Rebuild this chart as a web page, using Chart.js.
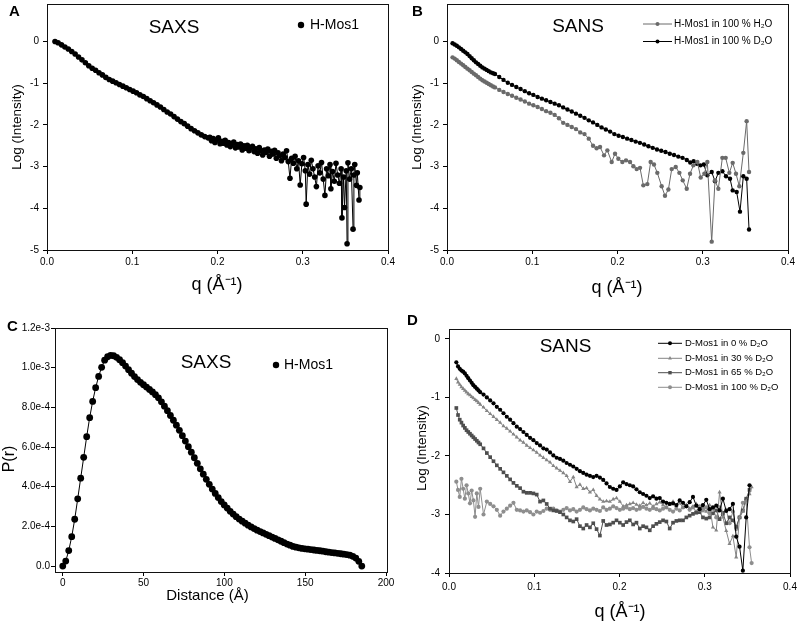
<!DOCTYPE html>
<html>
<head>
<meta charset="utf-8">
<script src="https://cdn.jsdelivr.net/npm/chart.js@4.4.1/dist/chart.umd.min.js"></script>
<style>
body { margin: 0; background: #fff; }
#wrap { position: relative; width: 800px; height: 621px; background: #fff; }
canvas { position: absolute; }
</style>
</head>
<body>
<div id="wrap">
  <canvas id="chartA" width="400" height="310" style="left:0;top:0"></canvas>
  <canvas id="chartB" width="400" height="310" style="left:400px;top:0"></canvas>
  <canvas id="chartC" width="400" height="311" style="left:0;top:310px"></canvas>
  <canvas id="chartD" width="400" height="311" style="left:400px;top:310px"></canvas>
</div>
<script>
// Panel A - SAXS, H-Mos1
const qA = [0.0094, 0.013, 0.017, 0.021, 0.025, 0.029, 0.033, 0.037, 0.041, 0.045, 0.049, 0.053, 0.057, 0.061, 0.065, 0.069, 0.073, 0.077, 0.081, 0.085, 0.089, 0.093, 0.097, 0.101, 0.105, 0.109, 0.113, 0.117, 0.121, 0.125, 0.129, 0.133, 0.137, 0.141, 0.145, 0.149, 0.153, 0.157, 0.161, 0.165, 0.169, 0.173, 0.177, 0.181, 0.185, 0.189,
  0.191, 0.193, 0.195, 0.197, 0.199, 0.201, 0.203, 0.205, 0.207, 0.209, 0.211, 0.213, 0.215, 0.217, 0.219, 0.221, 0.223, 0.225, 0.227, 0.229, 0.231, 0.233, 0.235, 0.237, 0.239, 0.241, 0.243, 0.245, 0.247, 0.249,
  0.251, 0.253, 0.255, 0.257, 0.259, 0.261, 0.263, 0.265, 0.267, 0.269, 0.271, 0.273, 0.275, 0.277, 0.279, 0.281, 0.283, 0.285, 0.287, 0.289, 0.291, 0.293, 0.295, 0.297, 0.299,
  0.301, 0.303, 0.304, 0.306, 0.308, 0.310, 0.312, 0.314, 0.316, 0.318, 0.320, 0.322, 0.324, 0.326, 0.328, 0.330, 0.332, 0.333, 0.335, 0.337, 0.339, 0.341, 0.343, 0.345, 0.346, 0.348, 0.349,
  0.351, 0.352, 0.353, 0.355, 0.357, 0.359, 0.360, 0.361, 0.363, 0.364, 0.366, 0.367];
const logIA = [0.00, -0.03, -0.08, -0.13, -0.18, -0.24, -0.30, -0.37, -0.44, -0.51, -0.58, -0.64, -0.69, -0.75, -0.80, -0.86, -0.91, -0.95, -0.99, -1.03, -1.07, -1.11, -1.15, -1.19, -1.23, -1.28, -1.32, -1.37, -1.42, -1.47, -1.52, -1.57, -1.63, -1.69, -1.74, -1.80, -1.86, -1.92, -1.97, -2.03, -2.09, -2.14, -2.19, -2.24, -2.28, -2.31,
  -2.30, -2.38, -2.33, -2.42, -2.36, -2.31, -2.45, -2.39, -2.44, -2.37, -2.48, -2.42, -2.52, -2.45, -2.41, -2.55, -2.47, -2.53, -2.46, -2.60, -2.50, -2.56, -2.49, -2.62, -2.55, -2.51, -2.64, -2.57, -2.68, -2.54,
  -2.62, -2.72, -2.60, -2.66, -2.58, -2.75, -2.63, -2.70, -2.61, -2.80, -2.67, -2.74, -2.86, -2.70, -2.78, -2.62, -2.88, -3.28, -2.80, -2.92, -2.75, -3.05, -2.86, -3.44, -2.93,
  -2.78, -3.10, -3.90, -2.95, -3.18, -2.85, -3.05, -3.25, -3.48, -2.98, -3.15, -2.90, -3.30, -3.69, -3.05, -3.22, -2.95, -3.53, -3.12, -3.35, -2.92, -3.20, -3.40, -3.05, -4.23, -3.25, -3.98,
  -3.10, -4.85, -2.91, -3.30, -3.05, -4.50, -3.20, -2.95, -3.45, -3.15, -3.80, -3.50];

// Panel B - SANS, H-Mos1 in H2O / D2O
const qB_H2O = [0.0065, 0.009, 0.0115, 0.014, 0.0165, 0.019, 0.0215, 0.024, 0.0265, 0.029, 0.0315, 0.034, 0.0365, 0.039, 0.0415, 0.044, 0.0465, 0.049, 0.0515, 0.054, 0.0563,
  0.0613, 0.0663, 0.0713, 0.0763, 0.0813, 0.0863, 0.0913, 0.0963, 0.1013, 0.1063, 0.1113, 0.1163, 0.1213, 0.1263, 0.1313, 0.1363, 0.1413, 0.1463, 0.1513, 0.1563, 0.1613, 0.1663, 0.1713, 0.1755, 0.1795,
  0.1842, 0.1881, 0.1932, 0.1971, 0.2010, 0.2057, 0.2100, 0.2147, 0.2186, 0.2225, 0.2264, 0.2303, 0.2350, 0.2389, 0.2428, 0.2467, 0.2518, 0.2557, 0.2597, 0.2636, 0.2683, 0.2726, 0.2765, 0.2812,
  0.2851, 0.2890, 0.2937, 0.2976, 0.3019, 0.3054, 0.3105, 0.3144, 0.3183, 0.3230, 0.3269, 0.3312, 0.3351, 0.3390, 0.3429, 0.3476, 0.3515, 0.3543];
const logIB_H2O = [-0.38, -0.41, -0.45, -0.49, -0.53, -0.57, -0.61, -0.65, -0.69, -0.73, -0.77, -0.81, -0.85, -0.89, -0.93, -0.96, -0.99, -1.02, -1.05, -1.08, -1.10,
  -1.16, -1.21, -1.26, -1.30, -1.35, -1.39, -1.44, -1.49, -1.53, -1.57, -1.62, -1.67, -1.71, -1.76, -1.84, -1.95, -2.00, -2.05, -2.10, -2.18, -2.22, -2.33, -2.50, -2.56, -2.53,
  -2.73, -2.61, -2.89, -2.69, -2.81, -2.89, -2.85, -2.89, -2.99, -3.06, -3.03, -3.45, -3.42, -2.89, -2.95, -3.15, -3.47, -3.70, -3.55, -3.06, -3.01, -3.15, -3.33, -3.53,
  -3.17, -2.97, -2.89, -3.26, -3.17, -2.89, -4.80, -3.33, -3.53, -2.79, -2.79, -3.15, -2.91, -3.17, -3.47, -2.67, -1.91, -3.13];
const qB_D2O = [0.0065, 0.009, 0.0115, 0.014, 0.0165, 0.019, 0.0215, 0.024, 0.0265, 0.029, 0.0315, 0.034, 0.0365, 0.039, 0.0415, 0.044, 0.0465, 0.049, 0.0515, 0.054, 0.0563,
  0.0613, 0.0663, 0.0713, 0.0763, 0.0813, 0.0863, 0.0913, 0.0963, 0.1013, 0.1063, 0.1113, 0.1163, 0.1213, 0.1263, 0.1313, 0.1363, 0.1413, 0.1463, 0.1513, 0.1563, 0.1613, 0.1663, 0.1713,
  0.1763, 0.1813, 0.1863, 0.1913, 0.1963, 0.2013, 0.2063, 0.2113, 0.2163, 0.2213, 0.2263, 0.2313, 0.2363, 0.2413, 0.2463, 0.2513, 0.2563, 0.2613, 0.2663, 0.2713, 0.2763, 0.2813,
  0.2853, 0.2893, 0.2933, 0.2973, 0.3013, 0.3054, 0.3105, 0.3144, 0.3183, 0.3230, 0.3273, 0.3320, 0.3351, 0.3398, 0.3437, 0.3476, 0.3515, 0.3543];
const logIB_D2O = [-0.04, -0.07, -0.10, -0.14, -0.18, -0.22, -0.26, -0.30, -0.35, -0.40, -0.45, -0.50, -0.54, -0.58, -0.62, -0.65, -0.68, -0.71, -0.74, -0.76, -0.78,
  -0.85, -0.92, -0.99, -1.04, -1.09, -1.14, -1.19, -1.24, -1.28, -1.33, -1.37, -1.41, -1.45, -1.49, -1.53, -1.58, -1.63, -1.68, -1.73, -1.78, -1.83, -1.89, -1.94,
  -2.00, -2.06, -2.11, -2.16, -2.22, -2.26, -2.29, -2.33, -2.36, -2.40, -2.43, -2.47, -2.51, -2.55, -2.59, -2.62, -2.65, -2.69, -2.72, -2.76, -2.79, -2.84,
  -2.90, -2.87, -2.93, -2.97, -2.95, -3.21, -3.13, -3.35, -3.15, -3.11, -3.23, -3.29, -3.57, -3.61, -4.08, -3.23, -3.29, -4.51];

// Panel C - P(r), H-Mos1
const distC = [0, 1.85, 3.70, 5.55, 7.40, 9.25, 11.10, 12.95, 14.80, 16.65, 18.50, 20.35, 22.20, 24.05, 25.90, 27.75, 29.60, 31.45, 33.30, 35.15,
  37.00, 38.85, 40.70, 42.55, 44.40, 46.25, 48.10, 49.95, 51.80, 53.65, 55.50, 57.35, 59.20, 61.05, 62.90, 64.75, 66.60, 68.45, 70.30, 72.15,
  74.00, 75.85, 77.70, 79.55, 81.40, 83.25, 85.10, 86.95, 88.80, 90.65, 92.50, 94.35, 96.20, 98.05, 99.90, 101.75, 103.60, 105.45, 107.30, 109.15,
  111.00, 112.85, 114.70, 116.55, 118.40, 120.25, 122.10, 123.95, 125.80, 127.65, 129.50, 131.35, 133.20, 135.05, 136.90, 138.75, 140.60, 142.45, 144.30, 146.15,
  148.00, 149.85, 151.70, 153.55, 155.40, 157.25, 159.10, 160.95, 162.80, 164.65, 166.50, 168.35, 170.20, 172.05, 173.90, 175.75, 177.60, 179.45, 181.30, 183.15, 185.00];
const prC = [0, 0.25e-4, 0.78e-4, 1.48e-4, 2.36e-4, 3.39e-4, 4.43e-4, 5.48e-4, 6.52e-4, 7.48e-4, 8.30e-4, 8.99e-4, 9.56e-4, 10.02e-4, 10.38e-4, 10.55e-4, 10.62e-4, 10.60e-4, 10.52e-4, 10.40e-4,
  10.25e-4, 10.08e-4, 9.90e-4, 9.72e-4, 9.55e-4, 9.40e-4, 9.26e-4, 9.14e-4, 9.02e-4, 8.90e-4, 8.78e-4, 8.64e-4, 8.48e-4, 8.28e-4, 8.06e-4, 7.83e-4, 7.59e-4, 7.35e-4, 7.10e-4, 6.84e-4,
  6.57e-4, 6.30e-4, 6.02e-4, 5.74e-4, 5.46e-4, 5.18e-4, 4.90e-4, 4.63e-4, 4.37e-4, 4.12e-4, 3.88e-4, 3.66e-4, 3.45e-4, 3.25e-4, 3.08e-4, 2.92e-4, 2.76e-4, 2.62e-4, 2.49e-4, 2.37e-4,
  2.26e-4, 2.16e-4, 2.06e-4, 1.97e-4, 1.89e-4, 1.81e-4, 1.74e-4, 1.67e-4, 1.60e-4, 1.53e-4, 1.46e-4, 1.39e-4, 1.32e-4, 1.25e-4, 1.18e-4, 1.11e-4, 1.05e-4, 0.99e-4, 0.95e-4, 0.92e-4,
  0.89e-4, 0.87e-4, 0.85e-4, 0.83e-4, 0.81e-4, 0.79e-4, 0.77e-4, 0.75e-4, 0.72e-4, 0.70e-4, 0.68e-4, 0.66e-4, 0.64e-4, 0.62e-4, 0.60e-4, 0.58e-4, 0.55e-4, 0.49e-4, 0.40e-4, 0.24e-4, 0];

// Panel D - SANS, D-Mos1 in 0 / 30 / 65 / 100 % D2O
const qD = [0.0086, 0.0106, 0.0126, 0.0146, 0.0166, 0.0186, 0.0206, 0.0226, 0.0246, 0.0266, 0.0286, 0.0306, 0.0326, 0.0346, 0.0366,
  0.0405, 0.0444, 0.0483, 0.0522, 0.0561, 0.0600, 0.0639, 0.0678, 0.0717, 0.0756, 0.0795, 0.0834, 0.0873, 0.0912, 0.0951, 0.0990, 0.1029, 0.1068, 0.1107, 0.1146,
  0.1185, 0.1224, 0.1263, 0.1302, 0.1341, 0.1380, 0.1419, 0.1458, 0.1497, 0.1536, 0.1575, 0.1614, 0.1653, 0.1692, 0.1731, 0.1770, 0.1809, 0.1848, 0.1887, 0.1926,
  0.1965, 0.2004, 0.2043, 0.2082, 0.2121, 0.2160, 0.2199, 0.2238, 0.2277, 0.2316, 0.2355, 0.2394, 0.2433, 0.2472, 0.2511, 0.2550, 0.2589, 0.2628, 0.2667, 0.2706,
  0.2745, 0.2784, 0.2823, 0.2862, 0.2901, 0.2940, 0.2979, 0.3018, 0.3057, 0.3096, 0.3135, 0.3174, 0.3213, 0.3252, 0.3291, 0.3330, 0.3369, 0.3408, 0.3447, 0.3486,
  0.3525, 0.3550];
const logID_0 = [-0.40, -0.47, -0.51, -0.54, -0.56, -0.59, -0.63, -0.67, -0.71, -0.75, -0.79, -0.82, -0.85, -0.88, -0.91,
  -0.95, -1.00, -1.05, -1.10, -1.16, -1.21, -1.27, -1.33, -1.38, -1.44, -1.50, -1.54, -1.59, -1.64, -1.69, -1.73, -1.78, -1.82, -1.87, -1.89,
  -1.94, -1.99, -2.03, -2.05, -2.08, -2.12, -2.15, -2.18, -2.22, -2.26, -2.29, -2.32, -2.34, -2.36, -2.34, -2.37, -2.41, -2.47, -2.53, -2.56,
  -2.58, -2.52, -2.45, -2.48, -2.50, -2.52, -2.57, -2.62, -2.65, -2.68, -2.72, -2.69, -2.73, -2.72, -2.78, -2.80, -2.82, -2.81, -2.84, -2.76,
  -2.80, -2.86, -2.79, -2.70, -2.85, -2.91, -2.84, -2.75, -2.91, -2.88, -2.85, -2.93, -2.73, -2.94, -2.91, -2.82, -3.38, -3.55, -3.96, -3.05,
  -2.50, null];
const logID_30 = [-0.68, -0.74, -0.78, -0.82, -0.85, -0.88, -0.91, -0.94, -0.96, -0.99, -1.01, -1.04, -1.06, -1.09, -1.12,
  -1.17, -1.23, -1.28, -1.33, -1.38, -1.43, -1.49, -1.53, -1.58, -1.63, -1.68, -1.73, -1.77, -1.82, -1.86, -1.90, -1.94, -1.99, -2.03, -2.07,
  -2.11, -2.17, -2.21, -2.25, -2.29, -2.34, -2.44, -2.36, -2.53, -2.49, -2.56, -2.55, -2.62, -2.58, -2.68, -2.74, -2.78, -2.77, -2.78, -2.74,
  -2.72, -2.78, -2.86, -2.84, -2.82, -2.80, -2.83, -2.85, -2.80, -2.84, -2.81, -2.86, -2.82, -2.79, -2.84, -2.88, -2.83, -2.78, -2.85, -2.81,
  -2.88, -2.84, -2.90, -2.86, -2.82, -2.93, -2.88, -2.95, -2.84, -3.22, -3.27, -2.62, -3.05, -3.28, -3.50, -3.37, -3.73, -3.05, -2.95, -2.77,
  -2.65, -2.53];
const logID_65 = [-1.18, -1.30, -1.38, -1.43, -1.48, -1.52, -1.56, -1.59, -1.62, -1.65, -1.68, -1.71, -1.74, -1.77, -1.80,
  -1.87, -1.95, -2.02, -2.09, -2.16, -2.22, -2.28, -2.34, -2.40, -2.46, -2.51, -2.55, -2.61, -2.63, -2.63, -2.64, -2.66, -2.78, -2.76, -2.82,
  -2.90, -2.93, -2.94, -2.96, -3.00, -3.05, -3.10, -3.12, -3.08, -3.20, -3.24, -3.18, -3.22, -3.15, -3.25, -3.36, -3.11, -3.18, -3.17, -3.14,
  -3.10, -3.14, -3.18, -3.13, -3.10, -3.17, -3.14, -3.24, -3.20, -3.22, -3.27, -3.20, -3.16, -3.13, -3.10, -3.12, -3.24, -3.14, -3.11, -3.10,
  -3.10, -3.05, -3.02, -2.99, -2.97, -2.96, -3.05, -3.07, -3.05, -2.98, -2.93, -3.08, -2.97, -3.15, -3.05, -3.10, -3.21, -3.05, -2.93, -2.73,
  -2.58, null];
const logID_100 = [-2.44, -2.58, -2.70, -2.39, -2.56, -2.73, -2.50, -2.64, -2.81, -2.59, -2.76, -3.04, -2.64, -2.87, -2.56,
  -3.00, -2.78, -2.82, -2.86, -2.92, -3.02, -2.95, -2.90, -2.85, -2.80, -2.92, -2.93, -2.95, -2.93, -2.96, -3.00, -2.95, -2.97, -2.94, -2.90,
  -2.92, -2.90, -2.93, -2.95, -2.92, -2.89, -2.93, -2.91, -2.95, -2.92, -2.88, -2.91, -2.93, -2.90, -2.92, -2.94, -2.88, -2.92, -2.90, -2.86,
  -2.89, -2.92, -2.90, -2.88, -2.91, -2.89, -2.92, -2.90, -2.87, -2.90, -2.92, -2.89, -2.91, -2.93, -2.90, -2.88, -2.92, -2.95, -2.90, -2.93,
  -2.88, -2.85, -2.92, -2.88, -2.95, -2.86, -2.93, -2.88, -2.98, -2.90, -3.05, -2.88, -3.00, -2.92, -3.15, -2.95, -3.25, -3.05, -2.80, -2.75,
  -3.56, -3.83];

// Tick values
const qTicks = [0, 0.1, 0.2, 0.3, 0.4];
const logTicksAB = [0, -1, -2, -3, -4, -5];
const logTicksD = [0, -1, -2, -3, -4];
const distTicks = [0, 50, 100, 150, 200];
const prTicks = [0, 2e-4, 4e-4, 6e-4, 8e-4, 1e-3, 1.2e-3];

const FONT = 'Arial, "Liberation Sans", sans-serif';

function pts(xs, ys) {
  const out = [];
  for (let i = 0; i < Math.min(xs.length, ys.length); i++) {
    if (ys[i] !== null) out.push({ x: xs[i], y: ys[i] });
  }
  return out;
}

function series(xs, ys, color, style, r) {
  return {
    data: pts(xs, ys), showLine: true,
    borderColor: color, borderWidth: 1, backgroundColor: color,
    pointBackgroundColor: color, pointBorderColor: color, pointBorderWidth: 0,
    pointRadius: r, pointHoverRadius: r, pointStyle: style
  };
}

function axis(o) {
  return {
    type: 'linear', min: o.min, max: o.max,
    afterBuildTicks: s => { s.ticks = o.ticks.map(v => ({ value: v })); },
    afterFit: s => {
      if (o.w) s.width = o.w;
      if (o.h) s.height = o.h;
      s.paddingTop = 0; s.paddingBottom = 0; s.paddingLeft = 0; s.paddingRight = 0;
    },
    ticks: { color: '#000', font: { family: FONT, size: o.size || 10 }, padding: o.pad, autoSkip: false, maxRotation: 0, callback: o.fmt },
    grid: { drawOnChartArea: false, drawTicks: true, tickLength: 4, color: '#000', lineWidth: 1 },
    border: { color: '#000', width: 1 }
  };
}

function sciLabel(v) {
  if (Math.abs(v) < 1e-12) return '0.0';
  const e = Math.floor(Math.log10(Math.abs(v)) + 1e-9);
  return (v / Math.pow(10, e)).toFixed(1) + 'e' + e;
}

// frame, texts and in-plot legend
const decor = {
  id: 'decor',
  afterDraw(chart, args, opts) {
    const ctx = chart.ctx, a = chart.chartArea;
    ctx.save();
    ctx.strokeStyle = '#111';
    ctx.lineWidth = 1;
    ctx.strokeRect(Math.round(a.left) + 0.5, Math.round(a.top) + 0.5, Math.round(a.right - a.left), Math.round(a.bottom - a.top));
    ctx.fillStyle = '#000';
    ctx.textBaseline = 'middle';
    (opts.texts || []).forEach(t => {
      ctx.font = (t.bold ? 'bold ' : '') + t.size + 'px ' + FONT;
      ctx.textAlign = t.align || 'center';
      ctx.save();
      ctx.translate(t.x, t.y);
      if (t.rot) ctx.rotate(-Math.PI / 2);
      ctx.fillText(t.text, 0, 0);
      ctx.restore();
    });
    (opts.legend || []).forEach(it => {
      const ds = chart.data.datasets[it.ds];
      const color = ds.borderColor;
      if (it.x2 > it.x1) {
        ctx.strokeStyle = color;
        ctx.beginPath();
        ctx.moveTo(it.x1, it.y);
        ctx.lineTo(it.x2, it.y);
        ctx.stroke();
      }
      ctx.fillStyle = color;
      ctx.strokeStyle = color;
      Chart.helpers.drawPoint(ctx, { pointStyle: ds.pointStyle, radius: it.r, rotation: 0, borderWidth: 0 }, (it.x1 + it.x2) / 2, it.y);
      ctx.fillStyle = '#000';
      ctx.font = it.size + 'px ' + FONT;
      ctx.textAlign = 'left';
      ctx.fillText(it.label, it.tx, it.y);
    });
    ctx.restore();
  }
};

function panel(id, datasets, xAx, yAx, pad, decorOpts) {
  return new Chart(document.getElementById(id), {
    type: 'scatter',
    data: { datasets },
    options: {
      responsive: false, animation: false,
      layout: { padding: pad },
      plugins: { legend: { display: false }, tooltip: { enabled: false }, decor: decorOpts },
      scales: { x: xAx, y: yAx }
    },
    plugins: [decor]
  });
}

// A
panel('chartA',
  [series(qA, logIA, '#000', 'circle', 2.8)],
  axis({ min: 0, max: 0.4, ticks: qTicks, h: 60, pad: 2, fmt: v => v.toFixed(1) }),
  axis({ min: -5, max: 0.9, ticks: logTicksAB, w: 47, pad: 4, fmt: v => String(v) }),
  { left: 0, top: 4, right: 12, bottom: 0 },
  {
    texts: [
      { text: 'A', x: 9, y: 12, size: 15, bold: true, align: 'left' },
      { text: 'SAXS', x: 174, y: 28, size: 19 },
      { text: 'Log (Intensity)', x: 17, y: 127, size: 13.5, rot: true },
      { text: 'q (Å⁻¹)', x: 217, y: 285, size: 18 }
    ],
    legend: [{ ds: 0, x1: 301, x2: 301, y: 25, r: 3.2, tx: 310, size: 14, label: 'H-Mos1' }]
  });

// B
panel('chartB',
  [series(qB_H2O, logIB_H2O, '#6a6a6a', 'circle', 2.2), series(qB_D2O, logIB_D2O, '#000', 'circle', 2.2)],
  axis({ min: 0, max: 0.4, ticks: qTicks, h: 60, pad: 2, fmt: v => v.toFixed(1) }),
  axis({ min: -5, max: 0.9, ticks: logTicksAB, w: 47, pad: 4, fmt: v => String(v) }),
  { left: 0, top: 4, right: 12, bottom: 0 },
  {
    texts: [
      { text: 'B', x: 12, y: 12, size: 15, bold: true, align: 'left' },
      { text: 'SANS', x: 178, y: 26.5, size: 19 },
      { text: 'Log (Intensity)', x: 17, y: 127, size: 13.5, rot: true },
      { text: 'q (Å⁻¹)', x: 217, y: 288, size: 18 }
    ],
    legend: [
      { ds: 0, x1: 243, x2: 272, y: 24, r: 2, tx: 274, size: 10, label: 'H-Mos1 in 100 % H₂O' },
      { ds: 1, x1: 243, x2: 272, y: 41.5, r: 2, tx: 274, size: 10, label: 'H-Mos1 in 100 % D₂O' }
    ]
  });

// C
panel('chartC',
  [series(distC, prC, '#000', 'circle', 3.4)],
  axis({ min: -4.8, max: 200.6, ticks: distTicks, h: 49, pad: 1, fmt: v => String(v) }),
  axis({ min: -3e-5, max: 1.2e-3, ticks: prTicks, w: 55, pad: 1, fmt: sciLabel }),
  { left: 0, top: 18, right: 13, bottom: 0 },
  {
    texts: [
      { text: 'C', x: 7, y: 17, size: 15, bold: true, align: 'left' },
      { text: 'SAXS', x: 206, y: 53, size: 19 },
      { text: 'P(r)', x: 10, y: 149, size: 16, rot: true },
      { text: 'Distance (Å)', x: 207.5, y: 286, size: 15 }
    ],
    legend: [{ ds: 0, x1: 276, x2: 276, y: 55, r: 3.2, tx: 284, size: 14, label: 'H-Mos1' }]
  });

// D
panel('chartD',
  [
    series(qD, logID_0, '#000', 'circle', 2.1),
    series(qD, logID_30, '#858585', 'triangle', 2.4),
    series(qD, logID_65, '#4e4e4e', 'rect', 2.6),
    series(qD, logID_100, '#8e8e8e', 'circle', 2.1)
  ],
  axis({ min: 0, max: 0.4, ticks: qTicks, h: 48, pad: 4, fmt: v => v.toFixed(1) }),
  axis({ min: -4, max: 0.17, ticks: logTicksD, w: 49, pad: 5, fmt: v => String(v) }),
  { left: 0, top: 19, right: 10, bottom: 0 },
  {
    texts: [
      { text: 'D', x: 7, y: 11, size: 15, bold: true, align: 'left' },
      { text: 'SANS', x: 165.5, y: 37, size: 19 },
      { text: 'Log (Intensity)', x: 22, y: 138, size: 13.5, rot: true },
      { text: 'q (Å⁻¹)', x: 220, y: 302, size: 18 }
    ],
    legend: [
      { ds: 0, x1: 258, x2: 282, y: 33.3, r: 2, tx: 285, size: 9.5, label: 'D-Mos1 in 0 % D₂O' },
      { ds: 1, x1: 258, x2: 282, y: 48.3, r: 2.2, tx: 285, size: 9.5, label: 'D-Mos1 in 30 % D₂O' },
      { ds: 2, x1: 258, x2: 282, y: 62.7, r: 2.4, tx: 285, size: 9.5, label: 'D-Mos1 in 65 % D₂O' },
      { ds: 3, x1: 258, x2: 282, y: 77.3, r: 2, tx: 285, size: 9.5, label: 'D-Mos1 in 100 % D₂O' }
    ]
  });
</script>
</body>
</html>
